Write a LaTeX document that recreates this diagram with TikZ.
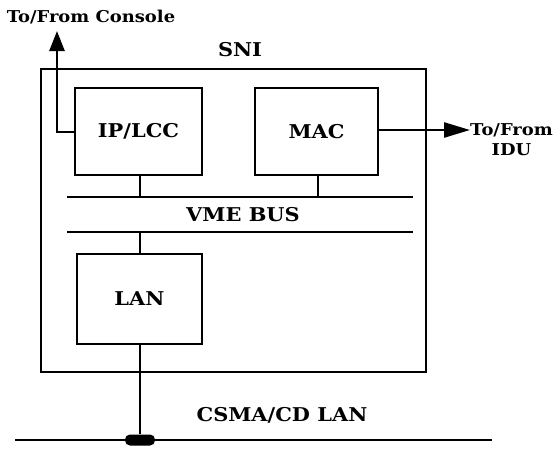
\documentclass[tikz,border=0pt]{standalone}
\usepackage{fontspec}
\setmainfont[FakeStretch=1.1]{DejaVu Serif}
\usetikzlibrary{arrows.meta}
\begin{document}
\begin{tikzpicture}[x=1pt,y=-1pt,
  ln/.style={line width=2.6pt},
  big/.style={font=\bfseries\fontsize{19}{22}\selectfont,inner sep=0pt},
  blk/.style={draw,ln,big,minimum width=#1,minimum height=87pt},
  lbl/.style={font=\bfseries\fontsize{16.3}{20}\selectfont,inner sep=0pt},
  arrup/.style={ln,-{Triangle[length=20pt,width=15pt]}},
  arrrt/.style={ln,-{Triangle[length=26pt,width=15pt]}}]
\useasboundingbox (0,0) rectangle (554,450);
\node[draw,ln,minimum width=385pt,minimum height=303pt,inner sep=0pt] (sni) at (233.5,220.5) {};
\node[big] (snil) at (240,50) {SNI};
\node[blk=127pt] (ip) at (138.5,131.5) {IP/LCC};
\node[blk=123pt] (mac) at (316.5,131.5) {MAC};
\node[blk=125pt,minimum height=90pt] (lan) at (139.5,299) {LAN};
\coordinate (b1l) at (67,197); \coordinate (b1r) at (413,197);
\coordinate (b2l) at (67,232); \coordinate (b2r) at (413,232);
\draw[ln] (b1l) -- (b1r);
\draw[ln] (b2l) -- (b2r);
\node[big] (vme) at (243,215) {VME BUS};
\draw[ln] (140,175) -- (140,197);
\draw[ln] (318,175) -- (318,197);
\draw[ln] (140,232) -- (140,254);
% CSMA/CD LAN
\coordinate (cl) at (15,440); \coordinate (cr) at (492,440);
\draw[ln] (cl) -- (cr);
\node[fill,rectangle,rounded corners=5pt,minimum width=30pt,minimum height=11pt,inner sep=0pt] (tap) at (140,440) {};
\draw[ln] (lan.south -| tap) -- (tap);
\node[big] (csma) at (282,415) {CSMA/CD LAN};
% console
\node[lbl] (con) at (91,17) {To/From Console};
\coordinate (cup) at (57,31);
\draw[arrup] (ip.west |- 0,132) -- (57,132) -- (cup);
% IDU
\node[lbl,anchor=west] (idu1) at (470,130) {To/From};
\node[lbl] (idu2) at (idu1.center |- 0,150) {IDU};
\draw[arrrt] (mac.east |- 0,130) -- (idu1.west);
\end{tikzpicture}
\end{document}
